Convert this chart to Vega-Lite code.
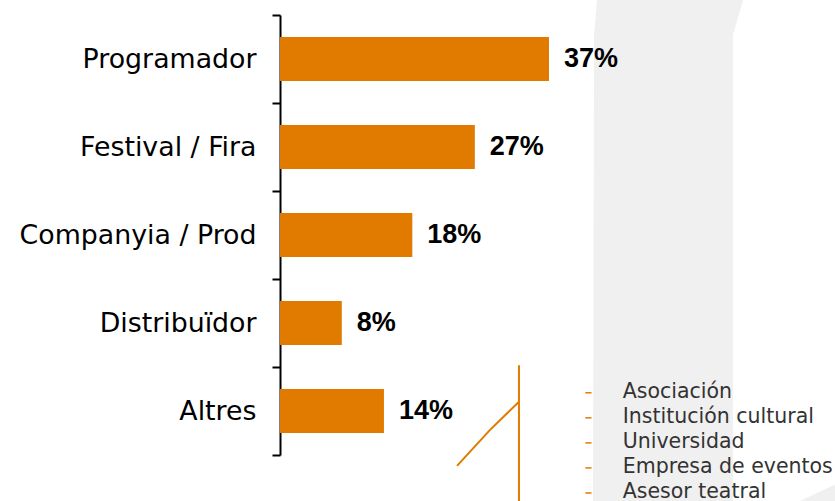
{
  "$schema": "https://vega.github.io/schema/vega-lite/v6.json",
  "width": 555,
  "height": 501,
  "autosize": {"type": "none"},
  "padding": {"left": 280, "top": 0, "right": 0, "bottom": 0},
  "background": "white",
  "config": {"view": {"stroke": null}},
  "datasets": {
    "bars": [
      {"cat": "Programador", "value": 37, "label": "37%"},
      {"cat": "Festival / Fira", "value": 26.8, "label": "27%"},
      {"cat": "Companyia / Prod", "value": 18.2, "label": "18%"},
      {"cat": "Distribuïdor", "value": 8.5, "label": "8%"},
      {"cat": "Altres", "value": 14.3, "label": "14%"}
    ],
    "shapes": [
      {"seg": "band", "y": 0, "x0": 43.6, "x1": 63.7},
      {"seg": "band", "y": 7.0, "x0": 43.2, "x1": 62.3},
      {"seg": "band", "y": 100, "x0": 43.05, "x1": 62.3},
      {"seg": "corner", "y": 96.6, "x0": 76.5, "x1": 76.5},
      {"seg": "corner", "y": 100, "x0": 71.5, "x1": 76.5}
    ],
    "connector": [
      {"seg": "diag", "o": 1, "x": 24.35, "y": 93.0},
      {"seg": "diag", "o": 2, "x": 28.89, "y": 85.8},
      {"seg": "diag", "o": 3, "x": 32.87, "y": 80.2},
      {"seg": "vert", "o": 1, "x": 32.87, "y": 72.9},
      {"seg": "vert", "o": 2, "x": 32.87, "y": 100}
    ],
    "items": [
      {"item": "Asociación", "pos": 78.0},
      {"item": "Institución cultural", "pos": 83.0},
      {"item": "Universidad", "pos": 88.0},
      {"item": "Empresa de eventos", "pos": 93.0},
      {"item": "Asesor teatral", "pos": 98.0}
    ]
  },
  "resolve": {"scale": {"y": "independent"}, "axis": {"y": "independent"}},
  "layer": [
    {
      "data": {"name": "shapes"},
      "mark": {"type": "area", "orient": "horizontal", "color": "#F0F0F0", "opacity": 1},
      "encoding": {
        "y": {"field": "y", "type": "quantitative", "scale": {"domain": [0, 100], "reverse": true, "nice": false, "zero": false}, "axis": null},
        "x": {"field": "x0", "type": "quantitative", "scale": {"domain": [0, 76.34], "nice": false, "zero": true}, "axis": null},
        "x2": {"field": "x1"},
        "detail": {"field": "seg"}
      }
    },
    {
      "data": {"name": "bars"},
      "mark": {"type": "bar", "color": "#E07B00", "height": {"band": 0.5}},
      "encoding": {
        "x": {"field": "value", "type": "quantitative", "axis": null},
        "y": {
          "field": "cat", "type": "nominal", "sort": null,
          "scale": {"range": [15, 455], "paddingInner": 0, "paddingOuter": 0},
          "axis": {
            "title": null, "tickBand": "extent", "grid": false,
            "domainColor": "#000000", "domainWidth": 2,
            "tickColor": "#000000", "tickWidth": 2, "tickSize": 8,
            "labelFont": "DejaVu Sans", "labelFontSize": 26.8, "labelColor": "#000000",
            "labelPadding": 16, "labelLimit": 0
          }
        }
      }
    },
    {
      "data": {"name": "bars"},
      "mark": {"type": "text", "align": "left", "baseline": "middle", "dx": 15, "font": "Liberation Sans", "fontWeight": "bold", "fontSize": 27, "color": "#000000"},
      "encoding": {
        "x": {"field": "value", "type": "quantitative"},
        "y": {"field": "cat", "type": "nominal", "sort": null, "scale": {"range": [15, 455], "paddingInner": 0, "paddingOuter": 0}, "axis": null},
        "text": {"field": "label"}
      }
    },
    {
      "data": {"name": "connector"},
      "mark": {"type": "line", "color": "#E07B00", "strokeWidth": 2},
      "encoding": {
        "x": {"field": "x", "type": "quantitative"},
        "y": {"field": "y", "type": "quantitative", "scale": {"domain": [0, 100], "reverse": true, "nice": false, "zero": false}, "axis": null},
        "detail": {"field": "seg"},
        "order": {"field": "o"}
      }
    },
    {
      "data": {"name": "items"},
      "mark": {"type": "rule", "color": "#E07B00", "strokeWidth": 1.5, "yOffset": 2},
      "encoding": {
        "x": {"datum": 42.0, "type": "quantitative"},
        "x2": {"datum": 42.85},
        "y": {"field": "pos", "type": "quantitative", "scale": {"domain": [0, 100], "reverse": true, "nice": false, "zero": false}, "axis": null}
      }
    },
    {
      "data": {"name": "items"},
      "mark": {"type": "text", "align": "left", "baseline": "middle", "dy": 1, "font": "DejaVu Sans", "fontSize": 20.5, "color": "#333333"},
      "encoding": {
        "x": {"datum": 47.14, "type": "quantitative"},
        "y": {"field": "pos", "type": "quantitative", "scale": {"domain": [0, 100], "reverse": true, "nice": false, "zero": false}, "axis": null},
        "text": {"field": "item"}
      }
    }
  ]
}
